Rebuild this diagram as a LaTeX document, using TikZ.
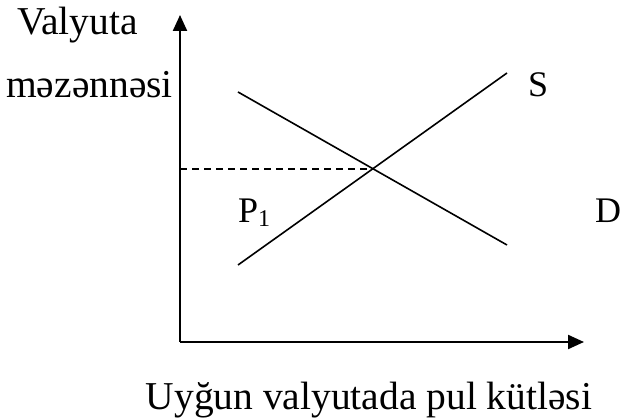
\documentclass[tikz,border=0pt]{standalone}
\usepackage{fontspec}
\setmainfont{Liberation Serif}
\usetikzlibrary{arrows.meta}

\tikzset{
  lbl/.style={inner sep=0pt,font=\fontsize{36}{42}\selectfont},
  biglbl/.style={inner sep=0pt,font=\fontsize{39.5}{44}\selectfont},
  axis/.style={line width=2.2pt,-{Triangle[length=16pt,width=14pt]}},
  curve/.style={line width=1.6pt}
}

\begin{document}
\begin{tikzpicture}[x=1pt,y=1pt]
  \useasboundingbox (0,0) rectangle (624,420);

  \coordinate (O) at (180,78);
  \coordinate (D1) at (238,328);
  \coordinate (D2) at (507,175);
  \coordinate (S1) at (238,155);
  \coordinate (S2) at (507,347);
  \coordinate (E) at (intersection of D1--D2 and S1--S2);

  \draw[axis] (O) -- (180,405);
  \draw[axis] (O) -- (584,78);

  \draw[curve] (D1) -- (D2);
  \draw[curve] (S1) -- (S2);
  \draw[curve,dash pattern=on 7pt off 5pt] (O |- E) -- (E);

  \node[biglbl,anchor=base west] (vy) at (17,385) {Valyuta};
  \node[biglbl,anchor=base west] (mz) at (6,322) {məzənnəsi};
  \node[lbl,anchor=base west] (s) at (528,323) {S};
  \node[lbl,anchor=base west] (d) at (595,197) {D};
  \node[lbl,anchor=base west] (p) at (238,197) {P\raisebox{-4pt}{\fontsize{24}{24}\selectfont 1}};
  \node[biglbl,anchor=base] (qx) at (369,10) {Uyğun valyutada pul kütləsi};
\end{tikzpicture}
\end{document}
